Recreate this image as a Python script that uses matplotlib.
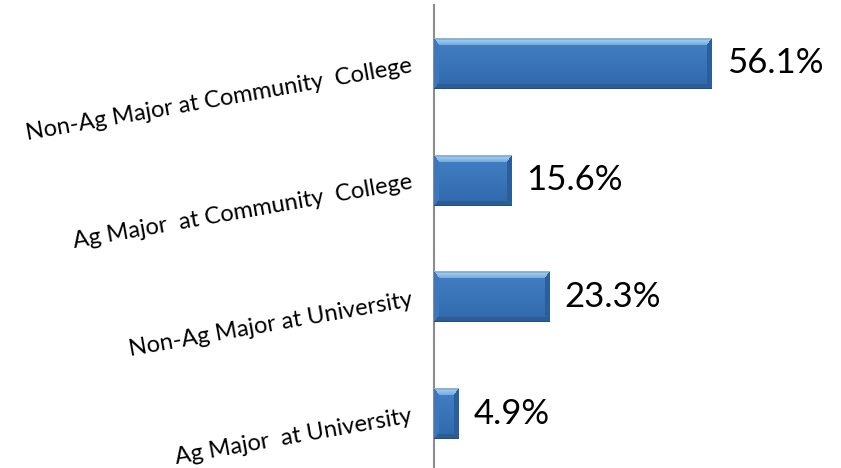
import numpy as np
import matplotlib
matplotlib.use("Agg")
import matplotlib.pyplot as plt

categories = ["Non-Ag Major at Community  College",
              "Ag Major  at Community  College",
              "Non-Ag Major at University",
              "Ag Major  at University"]
values = [56.1, 15.6, 23.3, 4.9]
value_labels = ["56.1%", "15.6%", "23.3%", "4.9%"]

W, H = 841, 468
fig = plt.figure(figsize=(W / 100, H / 100), dpi=100)
ax = fig.add_axes([434 / W, 0, 396 / W, 1 - 5 / H])

ypos = np.arange(len(categories))
bars = ax.barh(ypos, values, height=0.43, color="#3A74B8", edgecolor="none", zorder=2)
ax.set_xlim(0, 80)
ax.set_ylim(3.46, -0.5)

for s in ["top", "right", "bottom"]:
    ax.spines[s].set_visible(False)
ax.spines["left"].set_color("#8C8C8C")
ax.spines["left"].set_linewidth(1.5)
ax.set_xticks([])
ax.set_yticks(ypos)
ax.set_yticklabels(categories, rotation=10, ha="right", va="center_baseline",
                   rotation_mode="anchor", fontsize=17, family="Lato")
ax.tick_params(axis="y", length=0, pad=16)


def hexrgb(h):
    return np.array([int(h[i:i + 2], 16) for i in (1, 3, 5)]) / 255.0


fig.canvas.draw()
for b in bars:
    x0, y0 = b.get_x(), b.get_y()
    w, h = b.get_width(), b.get_height()
    p0 = ax.transData.transform((x0, y0))
    p1 = ax.transData.transform((x0 + w, y0 + h))
    pw = int(round(abs(p1[0] - p0[0])))
    ph = int(round(abs(p1[1] - p0[1])))
    img = np.zeros((ph, pw, 3))
    top = np.linspace(0, 1, ph)[:, None]
    base = hexrgb("#4580C4") * (1 - top[..., None]) + hexrgb("#2F69AC") * top[..., None]
    img[:] = base[:, 0, :][:, None, :]
    bv = 7
    bs = 5
    ii, jj = np.mgrid[0:ph, 0:pw]
    dt = ii
    db = ph - 1 - ii
    dl = jj * bv / bs
    dr = (pw - 1 - jj) * bv / bs
    dmin = np.minimum(np.minimum(dt, db), np.minimum(dl, dr))
    m_top = (dt < bv) & (dt <= dmin)
    m_bot = (db < bv - 2) & (db <= dmin) & ~m_top
    m_left = (dl < bv) & (dl <= dmin) & ~m_top & ~m_bot
    m_right = (dr < bv) & (dr <= dmin) & ~m_top & ~m_bot & ~m_left
    tfrac = (dt / bv)[..., None]
    topcol = hexrgb("#A9D6F5") * (1 - tfrac) + hexrgb("#6FA8DE") * tfrac
    img[m_top] = topcol[m_top]
    img[m_bot] = hexrgb("#2B5C94")
    img[m_left] = hexrgb("#3E78BC")
    img[m_right] = hexrgb("#2A5E9C")
    img[-1, :, :] = hexrgb("#244E80")
    img[:2, :, :] = np.clip(img[:2, :, :] * 0.85, 0, 1)
    ax.imshow(img, extent=(x0, x0 + w, y0 + h, y0), aspect="auto",
              interpolation="nearest", zorder=3)

ax.set_xlim(0, 80)
ax.set_ylim(3.46, -0.5)

for yi, v, lab in zip(ypos, values, value_labels):
    ax.annotate(lab, (v, yi), xytext=(11, 0), textcoords="offset points",
                ha="left", va="center", fontsize=25, family="Lato", color="black")

fig.savefig("out.png", dpi=100)
